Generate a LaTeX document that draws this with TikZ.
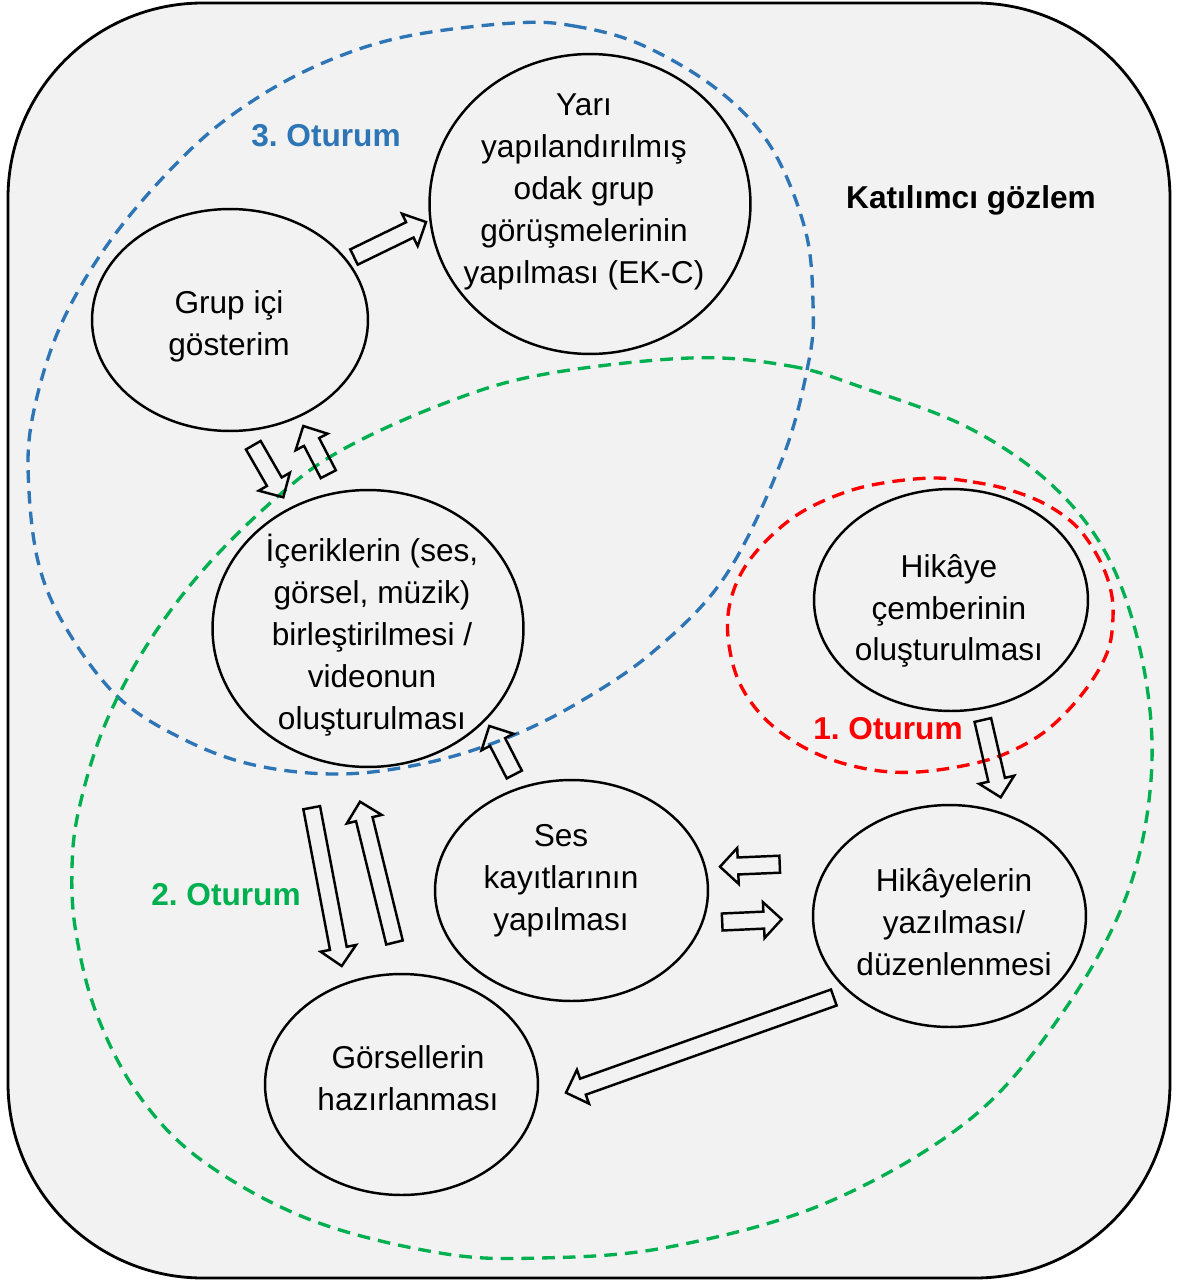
\documentclass[tikz,border=0pt]{standalone}
\usepackage{fontspec}
\setmainfont{Liberation Sans}
\usetikzlibrary{shapes.geometric,calc}
\definecolor{bg}{HTML}{F2F2F2}
\definecolor{sblue}{HTML}{2E75B6}
\definecolor{sgreen}{HTML}{00B050}
\definecolor{sred}{HTML}{FF0000}
\frenchspacing
\newcommand\blockarrow[2]{%
  \coordinate (bkN) at ($(#2)!0.36cm!(#1)$);
  \draw[blockarr] ($(#1)!0.17cm!90:(#2)$) -- ($(bkN)!0.17cm!90:(#2)$) -- ($(bkN)!0.36cm!90:(#2)$) -- (#2) -- ($(bkN)!0.36cm!-90:(#2)$) -- ($(bkN)!0.17cm!-90:(#2)$) -- ($(#1)!0.17cm!-90:(#2)$) -- cycle;}
\tikzset{
  ell/.style={ellipse, draw, line width=1.4pt, inner sep=0pt},
  txt/.style={align=center, font=\fontsize{18pt}{23.8pt}\selectfont, inner sep=0pt},
  lbl/.style={font=\fontsize{18pt}{22pt}\selectfont\bfseries, inner sep=0pt},
  dsh/.style={line width=1.9pt, dash pattern=on 7.2pt off 4.6pt},
  blockarr/.style={draw, line width=1.4pt, line join=miter},
}
\begin{document}
\begin{tikzpicture}[x=0.02cm, y=-0.02cm]
\useasboundingbox (0,0) rectangle (1179,1281);
\draw[line width=1.6pt, fill=bg, rounded corners=3.9cm] (8,3) rectangle (1170,1278);

% dashed session outlines
\draw[dsh, sblue] plot[smooth cycle, tension=0.6] coordinates {
 (514,23) (574,26) (642,45) (718,90) (771,147) (805,229) (813,303) (809,360)
 (783,457) (726,575) (654,651) (576,704) (504,739) (426,763) (340,774)
 (254,765) (183,739) (119,698) (69,633) (40,569) (29,491) (32,420)
 (60,327) (113,237) (189,151) (257,98) (330,60) (408,36)};
\draw[dsh, sgreen] plot[smooth cycle, tension=0.6] coordinates {
 (690,358) (790,366) (861,387) (969,428) (1054,487) (1111,563) (1144,669)
 (1151,780) (1126,897) (1061,1015) (969,1120) (826,1203) (669,1247)
 (540,1258) (440,1253) (311,1220) (204,1162) (140,1097) (97,1015)
 (76,933) (72,868) (79,809) (104,727) (147,645) (204,569) (276,498)
 (340,451) (440,405) (540,375)};
\draw[dsh, sred] plot[smooth cycle, tension=0.6] coordinates {
 (933,478) (973,482) (1010,490) (1047,505) (1077,527) (1098,557) (1110,587)
 (1113,617) (1107,653) (1083,693) (1047,730) (1007,753) (967,765) (917,772)
 (873,770) (827,758) (787,737) (757,710) (737,677) (728,637) (730,603)
 (743,570) (767,540) (800,513) (843,493) (883,483)};

% ellipses
\node[ell, minimum width=6.42cm, minimum height=6.00cm] (yari) at (590,204) {};
\node[ell, minimum width=5.52cm, minimum height=4.44cm] (grup) at (230,320) {};
\node[ell, minimum width=6.22cm, minimum height=5.54cm] (icerik) at (368,628.5) {};
\node[ell, minimum width=5.48cm, minimum height=4.44cm] (cember) at (951,600) {};
\node[ell, minimum width=5.46cm, minimum height=4.42cm] (ses) at (571.5,890.5) {};
\node[ell, minimum width=5.46cm, minimum height=4.44cm] (hikaye) at (949.5,916) {};
\node[ell, minimum width=5.46cm, minimum height=4.42cm] (gorsel) at (401.5,1084.5) {};

% texts
\node[txt] (tyari) at (584,192) {Yarı\\yapılandırılmış\\odak grup\\görüşmelerinin\\yapılması (EK-C)};
\node[txt] (tgrup) at (229,326) {Grup içi\\gösterim};
\node[txt] (ticerik) at (372,635) {İçeriklerin (ses,\\görsel, müzik)\\birleştirilmesi /\\videonun\\oluşturulması};
\node[txt] (tcember) at (949,611) {Hikâye\\çemberinin\\oluşturulması};
\node[txt] (tses) at (561,881) {Ses\\kayıtlarının\\yapılması};
\node[txt] (thikaye) at (954,922) {Hikâyelerin\\yazılması/\\düzenlenmesi};
\node[txt] (tgorsel) at (408,1078) {Görsellerin\\hazırlanması};

% labels
\node[lbl, text=sblue] (l3) at (326,136) {3. Oturum};
\node[lbl, text=sgreen] (l2) at (226,895) {2. Oturum};
\node[lbl, text=sred] (l1) at (888,729) {1. Oturum};
\node[lbl] (kg) at (971,200) {Katılımcı gözlem};

% block arrows
\coordinate (a1t) at (354,257);    \coordinate (a1h) at (426,222);
\coordinate (a2t) at (253.3,445.2); \coordinate (a2h) at (283.3,497.3);
\coordinate (a3t) at (328.3,474.2); \coordinate (a3h) at (303.3,426);
\coordinate (a4t) at (514.3,774.5); \coordinate (a4h) at (489.3,726);
\coordinate (a5t) at (311.7,807.7); \coordinate (a5h) at (341.7,966);
\coordinate (a6t) at (394.5,942.5); \coordinate (a6h) at (360,801.7);
\coordinate (a7t) at (779.7,864.2); \coordinate (a7h) at (720,866.7);
\coordinate (a8t) at (722.2,922);   \coordinate (a8h) at (781.7,919.3);
\coordinate (a9t) at (982.8,720);   \coordinate (a9h) at (1000.7,797.3);
\coordinate (a10t) at (833.8,997.5); \coordinate (a10h) at (566,1092.7);
\blockarrow{a1t}{a1h}
\blockarrow{a2t}{a2h}
\blockarrow{a3t}{a3h}
\blockarrow{a4t}{a4h}
\blockarrow{a5t}{a5h}
\blockarrow{a6t}{a6h}
\blockarrow{a7t}{a7h}
\blockarrow{a8t}{a8h}
\blockarrow{a9t}{a9h}
\blockarrow{a10t}{a10h}
\end{tikzpicture}
\end{document}
